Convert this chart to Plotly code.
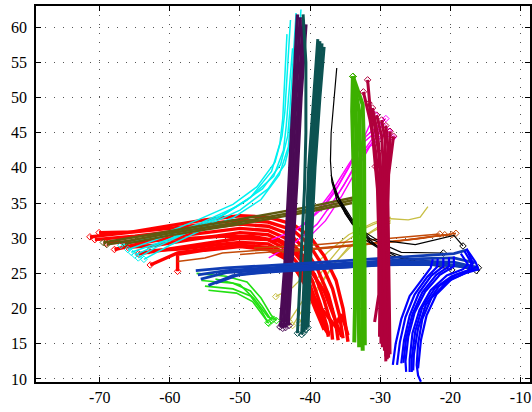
import plotly.graph_objects as go

# ---- trajectory data: each bundle is a list of tracks, each track a list of (x, y) ----
khaki_tracks = [
    [(-43.0, 18.2), (-40.5, 22.0), (-37.5, 26.5), (-35.0, 29.5), (-32.0, 31.5), (-29.0, 32.8), (-26.0, 32.6), (-24.3, 33.0), (-23.2, 34.5)],
    [(-42.5, 17.6), (-40.0, 21.5), (-37.0, 25.8), (-34.5, 28.8), (-31.0, 31.0), (-28.5, 32.2)],
    [(-44.9, 21.7), (-42.5, 23.0), (-40.0, 25.5), (-37.5, 28.0), (-34.5, 30.5), (-31.0, 32.2), (-28.5, 33.0)],
    [(-41.5, 18.0), (-39.0, 22.5), (-36.5, 26.5), (-33.5, 29.5), (-30.0, 31.8), (-28.5, 32.5)],
]

red_tracks = [
    [(-71.4, 30.2), (-66, 30.8), (-60, 31.8), (-55, 32.6), (-50, 33.2), (-46, 33.0), (-42.5, 32.0), (-40.0, 30.2), (-38.0, 27.5), (-36.3, 24.0), (-35.3, 20.0), (-34.8, 16.5), (-34.6, 15.3)],
    [(-70.1, 30.8), (-65, 30.9), (-60, 31.4), (-55, 32.0), (-50, 32.6), (-46, 32.3), (-42.5, 31.2), (-40.2, 29.2), (-38.4, 26.4), (-36.8, 22.8), (-35.8, 19.0), (-35.3, 15.8)],
    [(-70.7, 29.8), (-65, 30.3), (-60, 30.9), (-55, 31.5), (-50, 32.0), (-46, 31.7), (-42.8, 30.5), (-40.6, 28.3), (-38.9, 25.5), (-37.4, 22.0), (-36.4, 18.3), (-36.0, 15.5)],
    [(-67.9, 28.4), (-63, 29.5), (-58, 30.4), (-54, 30.9), (-50, 31.4), (-46, 31.1), (-43.0, 29.8), (-41.0, 27.5), (-39.3, 24.7), (-38.0, 21.2), (-37.0, 17.8), (-36.8, 15.6)],
    [(-66.0, 28.7), (-62, 29.0), (-57, 29.8), (-53, 30.4), (-50, 30.8), (-46, 30.5), (-43.3, 29.2), (-41.3, 26.8), (-39.7, 24.0), (-38.5, 20.5), (-37.6, 17.5), (-37.4, 16.0)],
    [(-64.5, 27.8), (-60, 28.5), (-55, 29.3), (-50, 30.0), (-46, 29.8), (-43.5, 28.5), (-41.6, 26.2), (-40.0, 23.3), (-38.8, 20.0), (-37.8, 17.0), (-37.3, 16.2)],
    [(-63.0, 28.2), (-58, 28.5), (-53, 29.1), (-50, 29.4), (-46, 29.2), (-43.8, 28.0), (-42.0, 25.5), (-40.4, 22.8), (-39.2, 19.8), (-38.0, 17.0)],
    [(-69.0, 29.3), (-64, 29.6), (-58, 30.0), (-52, 30.3), (-48, 30.2), (-44.5, 29.6), (-42.0, 28.0), (-39.8, 25.2), (-38.0, 22.5), (-36.8, 19.5), (-35.8, 17.0), (-35.5, 16.0)],
    [(-62.8, 26.2), (-58.9, 27.9), (-54, 28.6), (-50, 29.0), (-46, 28.7), (-43.5, 27.4), (-41.3, 24.8), (-39.5, 21.5), (-38.0, 18.0), (-37.3, 16.4)],
    [(-58.9, 25.3), (-58.9, 27.7), (-55, 28.3), (-50, 28.8), (-46, 28.4), (-43.0, 26.8), (-40.8, 23.8), (-38.6, 20.3), (-36.4, 17.5), (-35.6, 19.2), (-35.0, 17.6), (-34.6, 16.2)],
]

cyan_tracks = [
    [(-41.3, 62.5), (-41.8, 55), (-42.3, 48), (-42.6, 44.5), (-43.6, 40.5), (-46.0, 37.0), (-50.0, 34.0), (-55.0, 31.7), (-60.0, 29.9), (-65.5, 28.0)],
    [(-42.0, 62.0), (-42.4, 55), (-42.9, 48), (-43.2, 44.5), (-44.2, 40.5), (-46.8, 37.0), (-50.5, 34.5), (-55.5, 32.2), (-60.5, 30.3), (-66.0, 28.4)],
    [(-42.8, 61.0), (-43.2, 55), (-43.6, 48), (-44.0, 44.5), (-45.0, 40.8), (-47.6, 37.3), (-51.0, 34.8), (-56.0, 32.6), (-61.0, 30.6), (-67.0, 29.0)],
    [(-41.7, 60.0), (-42.2, 54), (-42.7, 47), (-43.1, 43.0), (-44.4, 39.0), (-47.0, 35.5), (-51.0, 32.9), (-56.0, 30.9), (-60.0, 29.0), (-63.7, 27.0)],
    [(-43.3, 59.0), (-43.6, 53), (-43.9, 47), (-44.3, 43.5), (-45.5, 39.5), (-48.5, 35.8), (-52.5, 33.3), (-57.0, 31.3), (-61.0, 29.5), (-65.0, 27.6)],
    [(-42.5, 57.0), (-42.9, 52), (-43.4, 46), (-43.8, 42.5), (-45.2, 38.8), (-49.0, 35.4), (-53.0, 32.9), (-58.0, 30.6), (-62.0, 28.7), (-64.5, 27.2)],
]

magenta_tracks = [
    [(-45.9, 27.2), (-42.0, 29.5), (-39.0, 32.0), (-36.5, 35.5), (-34.0, 39.5), (-32.0, 42.5), (-30.2, 44.8)],
    [(-45.5, 29.8), (-42.0, 31.2), (-39.5, 33.2), (-37.0, 36.5), (-34.5, 40.5), (-32.5, 43.5), (-29.6, 46.0)],
    [(-41.0, 31.8), (-38.5, 34.0), (-36.0, 37.5), (-34.0, 41.0), (-32.0, 44.5), (-29.2, 47.0)],
    [(-40.0, 30.3), (-37.8, 32.5), (-35.5, 36.0), (-33.5, 39.5), (-31.5, 43.0), (-28.8, 45.2)],
    [(-38.5, 33.8), (-36.5, 36.5), (-34.5, 40.0), (-32.7, 43.5), (-30.8, 47.6)],
    [(-37.5, 34.0), (-35.2, 37.5), (-33.0, 41.5), (-30.5, 45.0), (-28.2, 44.3)],
]

olive_tracks = [
    [(-69.5, 29.4), (-60, 31.0), (-50, 32.7), (-40, 34.5), (-33.3, 35.9)],
    [(-69.0, 29.1), (-60, 30.7), (-50, 32.3), (-40, 34.1), (-33.5, 35.5)],
    [(-66.4, 29.2), (-60, 30.4), (-50, 32.0), (-40, 33.8), (-34.0, 35.0)],
]

brown_tracks = [
    [(-58.9, 26.7), (-55, 27.2), (-52.5, 27.9), (-47, 28.3), (-40, 28.5), (-32, 29.2), (-25, 29.9), (-20.8, 30.5)],
    [(-50.0, 27.7), (-44, 28.1), (-38, 28.6), (-30, 29.3), (-24, 30.0), (-19.2, 30.7)],
    [(-48.0, 28.6), (-40, 29.0), (-33, 29.6), (-26, 30.2), (-21.5, 30.6)],
    [(-44.0, 28.0), (-36, 28.7), (-29, 29.4), (-23, 30.2), (-19.8, 30.5)],
]

black_tracks = [
    [(-36.2, 54.2), (-36.6, 50), (-37.0, 45), (-37.1, 41), (-36.9, 38), (-36.2, 35.5), (-34.0, 32.0), (-30.5, 29.8), (-25.0, 29.1), (-19.5, 30.4), (-18.2, 28.9)],
    [(-37.0, 39.0), (-36.2, 36.0), (-34.5, 33.0), (-31.5, 30.0), (-27.0, 28.0), (-21.0, 27.9)],
    [(-36.8, 38.0), (-35.6, 35.0), (-33.5, 31.5), (-30.0, 28.5), (-25.0, 26.8), (-19.8, 25.5)],
    [(-36.5, 37.0), (-35.0, 33.5), (-32.5, 30.0), (-28.5, 27.5), (-23.0, 26.2), (-16.0, 25.8)],
    [(-36.4, 36.5), (-34.2, 33.0), (-31.5, 29.5), (-27.5, 27.3), (-21.0, 26.5), (-16.3, 25.4)],
]

purple_tracks = [
    [(-41.8, 61.8), (-42.4, 50), (-43.0, 38), (-43.6, 26), (-44.2, 18.0), (-44.3, 17.4)],
    [(-41.4, 61.4), (-42.0, 50), (-42.6, 38), (-43.3, 26), (-43.8, 18.0), (-43.9, 17.2)],
    [(-41.0, 61.0), (-41.6, 50), (-42.3, 38), (-42.9, 26), (-43.4, 18.0), (-43.5, 17.3)],
    [(-40.6, 60.4), (-41.3, 50), (-41.9, 38), (-42.6, 26), (-43.1, 18.0), (-43.0, 17.6)],
]

teal_tracks = [
    [(-41.0, 61.8), (-40.6, 55), (-40.6, 45), (-40.8, 37), (-41.4, 25), (-41.8, 16.5)],
    [(-38.9, 58.3), (-39.5, 50), (-40.2, 40), (-40.6, 30), (-41.2, 16.3)],
    [(-38.6, 58.0), (-39.2, 50), (-39.9, 40), (-40.3, 30), (-40.9, 16.6)],
    [(-38.3, 57.7), (-38.9, 50), (-39.6, 40), (-40.0, 30), (-40.6, 17.0)],
    [(-38.0, 57.2), (-38.6, 50), (-39.3, 40), (-39.8, 30), (-40.3, 17.3)],
]

lime_tracks = [
    [(-56.2, 25.0), (-52.0, 24.6), (-49.0, 23.8), (-47.0, 21.5), (-45.5, 19.0), (-44.8, 18.3)],
    [(-55.5, 24.0), (-51.0, 23.6), (-48.5, 22.5), (-46.8, 20.3), (-45.5, 18.3)],
    [(-55.0, 23.2), (-51.0, 22.8), (-48.5, 21.8), (-47.0, 19.8), (-46.0, 18.0)],
    [(-54.5, 22.6), (-50.5, 22.2), (-48.2, 21.0), (-46.8, 19.2), (-45.9, 17.9)],
    [(-53.5, 24.2), (-50.0, 23.4), (-47.8, 21.2), (-46.0, 18.8), (-45.2, 18.5)],
]

navy_tracks = [
    [(-56.3, 25.4), (-52, 25.8), (-46, 26.1), (-38, 26.6), (-30, 27.1), (-24, 27.5), (-19.5, 27.8), (-17.7, 28.3)],
    [(-56.0, 24.8), (-52, 25.4), (-46, 25.8), (-38, 26.3), (-30, 26.8), (-24, 27.1), (-19.5, 27.2), (-16.5, 26.5)],
    [(-55.6, 24.2), (-52, 25.1), (-46, 25.5), (-38, 26.0), (-30, 26.5), (-24, 26.7), (-19.5, 26.6), (-16.0, 25.8)],
    [(-54.5, 23.3), (-51, 24.7), (-46, 25.2), (-38, 25.7), (-30, 26.2), (-24, 26.3), (-19.5, 26.1), (-16.0, 25.6)],
    [(-53.5, 23.6), (-50, 24.9), (-44, 25.4), (-36, 25.9), (-28, 26.3), (-22, 26.4), (-16.2, 25.9)],
]

blue_tracks = [
    [(-17.7, 28.5), (-16.4, 26.6), (-16.0, 25.6), (-18.0, 25.0), (-20.5, 23.8), (-22.7, 21.5), (-24.0, 18.5), (-24.6, 15.0), (-24.8, 12.0), (-24.6, 10.5), (-24.2, 9.6)],
    [(-16.2, 26.0), (-17.5, 25.2), (-19.8, 24.2), (-22.0, 22.0), (-23.4, 19.0), (-24.2, 15.5), (-24.6, 11.5)],
    [(-17.7, 28.5), (-16.8, 26.5), (-17.0, 25.6), (-19.2, 24.8), (-21.6, 23.2), (-23.5, 20.5), (-24.6, 17.2), (-25.2, 13.5), (-25.3, 11.2)],
    [(-18.0, 28.2), (-17.0, 26.5), (-17.5, 25.4), (-19.8, 24.6), (-22.2, 22.9), (-24.0, 20.2), (-25.0, 16.8), (-25.5, 13.0), (-25.5, 11.0)],
    [(-18.5, 27.8), (-17.5, 26.3), (-18.2, 25.6), (-20.5, 24.7), (-22.8, 22.6), (-24.4, 19.8), (-25.4, 16.5), (-25.8, 12.8), (-25.8, 11.0)],
    [(-19.5, 27.4), (-19.5, 26.0), (-21.5, 24.8), (-23.6, 22.4), (-25.1, 19.4), (-26.0, 16.0), (-26.4, 12.5), (-26.3, 11.0)],
    [(-20.2, 27.3), (-20.2, 26.0), (-22.0, 24.8), (-24.0, 22.3), (-25.4, 19.2), (-26.3, 15.8), (-26.7, 12.3)],
    [(-21.0, 27.2), (-21.0, 26.0), (-22.7, 24.7), (-24.5, 22.2), (-25.8, 19.0), (-26.6, 15.5), (-27.0, 12.2)],
    [(-21.8, 27.1), (-21.9, 25.9), (-23.3, 24.5), (-25.1, 22.0), (-26.4, 18.8), (-27.2, 15.2), (-27.6, 12.0)],
    [(-22.5, 27.0), (-22.8, 25.8), (-24.0, 24.2), (-25.8, 21.8), (-27.0, 18.5), (-27.8, 15.0), (-28.2, 12.0)],
]

green_tracks = [
    [(-33.9, 53.0), (-34.0, 48), (-33.8, 40), (-33.6, 30), (-33.6, 20), (-33.7, 15.2)],
    [(-33.9, 53.0), (-33.5, 48), (-33.3, 40), (-33.2, 30), (-33.1, 20), (-33.0, 14.5)],
    [(-33.9, 53.0), (-33.0, 48), (-32.8, 40), (-32.7, 30), (-32.6, 20), (-32.5, 14.0)],
    [(-33.9, 53.0), (-32.5, 49), (-32.3, 42), (-32.2, 30), (-32.2, 20), (-32.2, 14.8)],
]

crimson_tracks = [
    [(-31.8, 52.5), (-31.4, 48), (-30.8, 42), (-30.4, 37), (-30.2, 30), (-30.2, 22), (-30.8, 18.1)],
    [(-32.4, 50.8), (-31.5, 47), (-30.6, 42), (-30.2, 37), (-30.0, 30), (-30.0, 22), (-30.1, 16.0)],
    [(-31.6, 49.2), (-30.8, 46), (-30.2, 42), (-29.9, 37), (-29.8, 30), (-29.8, 22), (-29.9, 15.0)],
    [(-31.1, 48.5), (-30.4, 45), (-30.0, 41), (-29.8, 37), (-29.6, 30), (-29.6, 22), (-29.7, 14.5)],
    [(-30.5, 47.5), (-29.8, 44.5), (-29.6, 41), (-29.5, 37), (-29.4, 30), (-29.4, 22), (-29.4, 14.0)],
    [(-29.8, 46.8), (-29.3, 44), (-29.3, 40.5), (-29.3, 37), (-29.2, 30), (-29.2, 22), (-29.2, 13.2)],
    [(-29.2, 46.0), (-28.9, 43), (-29.1, 40), (-29.1, 37), (-29.0, 30), (-29.0, 22), (-29.0, 12.8)],
    [(-28.6, 45.2), (-28.6, 42.5), (-28.9, 39.5), (-29.0, 36), (-28.9, 29), (-28.9, 21), (-28.8, 13.0)],
    [(-28.1, 44.5), (-28.4, 42), (-28.8, 39), (-28.9, 35), (-28.8, 28), (-28.7, 20), (-28.6, 13.5)],
    [(-30.7, 40.2), (-30.2, 38), (-29.7, 35), (-29.5, 28), (-29.3, 20), (-29.2, 12.5)],
]

x_ticks = [-70, -60, -50, -40, -30, -20, -10]
y_ticks = [10, 15, 20, 25, 30, 35, 40, 45, 50, 55, 60]

# ---- drawing styles, bottom layer first ----
layers = [
    (khaki_tracks,   "#c8bf45", 1.3, "first"),
    (red_tracks,     "#ff0000", 3.4, "first"),
    (cyan_tracks,    "#00f0f0", 1.5, "last"),
    (magenta_tracks, "#ff00ff", 1.4, "last"),
    (olive_tracks,   "#5f5a0f", 2.4, "first"),
    (brown_tracks,   "#c44a08", 1.5, "last"),
    (black_tracks,   "#000000", 1.2, "last"),
    (purple_tracks,  "#4b0a55", 3.4, "last"),
    (teal_tracks,    "#0c5352", 3.0, "last"),
    (lime_tracks,    "#22e012", 1.6, "last"),
    (navy_tracks,    "#0f3cb4", 2.8, None),
    (blue_tracks,    "#0000ff", 2.2, None),
    (green_tracks,   "#3cb000", 4.0, "first"),
    (crimson_tracks, "#b0003c", 3.0, "first"),
]

fig = go.Figure()
for tracks, color, width, mark in layers:
    for tr in tracks:
        xs = [p[0] for p in tr]
        ys = [p[1] for p in tr]
        fig.add_trace(go.Scatter(x=xs, y=ys, mode="lines",
                                 line=dict(color=color, width=width),
                                 hoverinfo="skip", showlegend=False))
        if mark:
            p = tr[0] if mark == "first" else tr[-1]
            fig.add_trace(go.Scatter(x=[p[0]], y=[p[1]], mode="markers",
                                     marker=dict(symbol="diamond-open", size=5,
                                                 color=color, line=dict(width=1, color=color)),
                                     hoverinfo="skip", showlegend=False))

axis_common = dict(
    showline=True, linecolor="black", linewidth=1.5, mirror="ticks",
    ticks="inside", ticklen=5, tickwidth=1, tickcolor="black",
    showgrid=True, gridcolor="#555555", gridwidth=1, griddash="1px,8px",
    zeroline=False,
    tickfont=dict(family="Liberation Serif", size=16, color="black"),
)

fig.update_layout(
    width=532, height=412,
    margin=dict(l=36, r=0, t=6, b=30),
    paper_bgcolor="white", plot_bgcolor="white",
    showlegend=False,
    xaxis=dict(range=[-79.09, -8.64], tickvals=x_ticks, ticktext=[str(v) for v in x_ticks],
               ticklabelstandoff=0, **axis_common),
    yaxis=dict(range=[9.57, 63.0], tickvals=y_ticks, ticktext=[str(v) for v in y_ticks],
               ticklabelstandoff=4, **axis_common),
)

fig.write_html("out.html")
